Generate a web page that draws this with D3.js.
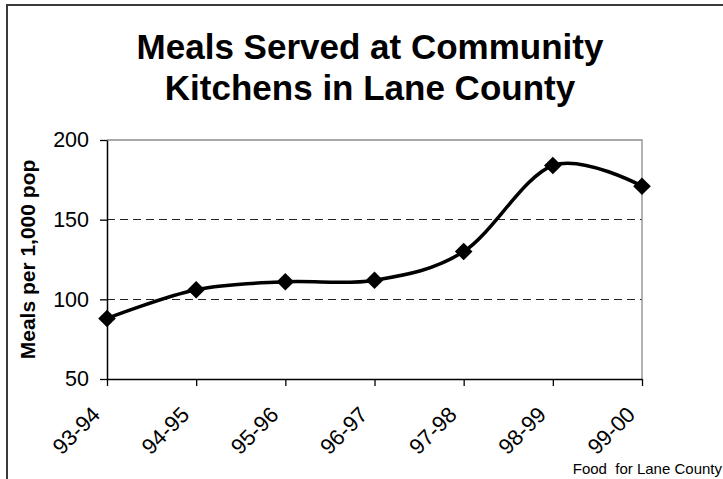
<!DOCTYPE html>
<html>
<head>
<meta charset="utf-8">
<script src="https://cdn.jsdelivr.net/npm/d3@7/dist/d3.min.js"></script>
<style>
  html, body { margin: 0; padding: 0; background: #fff; }
  svg { display: block; font-family: "Liberation Sans", Arial, sans-serif; }
</style>
</head>
<body>
<svg id="chart" width="723" height="479"></svg>
<script>
// Meals served per 1,000 population, by fiscal year
const years = ["93-94", "94-95", "95-96", "96-97", "97-98", "98-99", "99-00"];
const mealsPer1000 = [88, 106, 111, 112, 130, 184, 171];
const yTicks = [50, 100, 150, 200];
const titleLines = ["Meals Served at Community", "Kitchens in Lane County"];
const yTitle = "Meals per 1,000 pop";
const sourceNote = "Food  for Lane County";

const svg = d3.select("#chart");

// outer chart frame (extends beyond the right and bottom edges)
svg.append("rect")
  .attr("x", 7).attr("y", 5)
  .attr("width", 726).attr("height", 490)
  .attr("fill", "#fff")
  .attr("stroke", "#3a3a3a")
  .attr("stroke-width", 2);

const plot = { left: 107, right: 642, top: 140, bottom: 379 };

const x = d3.scalePoint()
  .domain(years)
  .range([plot.left, plot.right]);

const y = d3.scaleLinear()
  .domain([50, 200])
  .range([plot.bottom, plot.top]);

// title
svg.append("text")
  .attr("text-anchor", "middle")
  .attr("font-weight", "bold").attr("font-size", 35)
  .selectAll("tspan")
  .data(titleLines)
  .join("tspan")
  .attr("x", 370)
  .attr("y", (d, i) => 59 + i * 41)
  .text(d => d);

// dashed gridlines at interior ticks
svg.append("g")
  .selectAll("line")
  .data(yTicks.filter(v => v > 50 && v < 200))
  .join("line")
  .attr("x1", plot.left).attr("x2", plot.right)
  .attr("y1", d => y(d)).attr("y2", d => y(d))
  .attr("stroke", "#222")
  .attr("stroke-width", 1)
  .attr("stroke-dasharray", "8,5")
  .attr("shape-rendering", "crispEdges");

// plot area border on top and right (grey)
svg.append("path")
  .attr("d", `M${plot.left},${y(200)}H${plot.right}V${plot.bottom}`)
  .attr("fill", "none")
  .attr("stroke", "#8c8c8c")
  .attr("stroke-width", 1.3);

// y axis
const yAxis = svg.append("g")
  .attr("transform", `translate(${plot.left},0)`)
  .call(d3.axisLeft(y).tickValues(yTicks).tickSize(7).tickPadding(11).tickSizeOuter(0));
yAxis.select(".domain").attr("stroke", "#000").attr("stroke-width", 1.5);
yAxis.selectAll(".tick line").attr("stroke", "#000").attr("stroke-width", 1.3);
yAxis.selectAll(".tick text")
  .attr("font-size", 21.5)
  .attr("font-family", "Liberation Sans, Arial, sans-serif")
  .attr("fill", "#000");

// x axis with diagonal category labels
const xAxis = svg.append("g")
  .attr("transform", `translate(0,${plot.bottom})`)
  .call(d3.axisBottom(x).tickSize(7).tickSizeOuter(0));
xAxis.select(".domain").attr("stroke", "#000").attr("stroke-width", 1.5);
xAxis.selectAll(".tick line").attr("stroke", "#000").attr("stroke-width", 1.3);
xAxis.selectAll(".tick text")
  .attr("font-size", 22)
  .attr("font-family", "Liberation Sans, Arial, sans-serif")
  .attr("fill", "#000")
  .attr("text-anchor", "end")
  .attr("dy", null)
  .attr("y", 0)
  .attr("transform", "translate(-6,37) rotate(-45)");

// y axis title
svg.append("text")
  .attr("transform", `translate(35,${(plot.top + plot.bottom) / 2}) rotate(-90)`)
  .attr("text-anchor", "middle")
  .attr("font-weight", "bold")
  .attr("font-size", 21)
  .text(yTitle);

// smoothed series line
const line = d3.line()
  .x((d, i) => x(years[i]))
  .y(d => y(d))
  .curve(d3.curveCardinal.tension(0));

svg.append("path")
  .datum(mealsPer1000)
  .attr("d", line)
  .attr("fill", "none")
  .attr("stroke", "#000")
  .attr("stroke-width", 3.5);

// diamond markers
const diamond = d3.symbol().type(d3.symbolSquare).size(155);
svg.append("g")
  .selectAll("path")
  .data(mealsPer1000)
  .join("path")
  .attr("d", diamond)
  .attr("transform", (d, i) => `translate(${x(years[i])},${y(d)}) rotate(45)`)
  .attr("fill", "#000");

// source note
svg.append("text")
  .attr("x", 722).attr("y", 474)
  .attr("text-anchor", "end")
  .attr("font-size", 15)
  .style("white-space", "pre")
  .text(sourceNote);
</script>
</body>
</html>
